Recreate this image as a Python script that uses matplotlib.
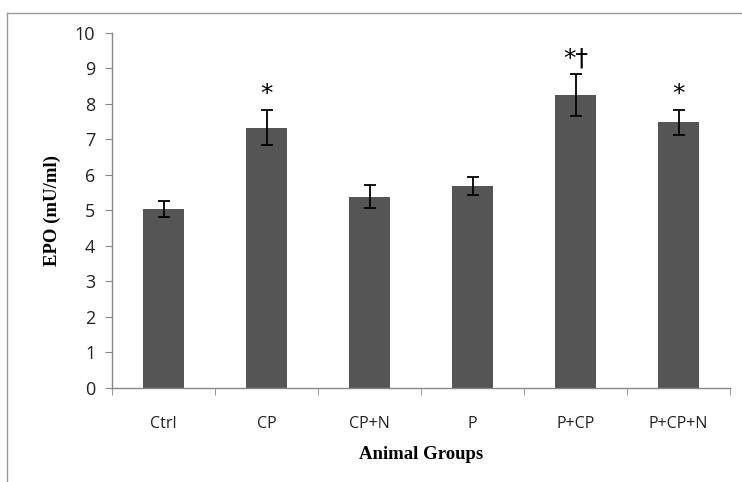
import numpy as np
import matplotlib.pyplot as plt
from matplotlib.lines import Line2D

groups = ['Ctrl', 'CP', 'CP+N', 'P', 'P+CP', 'P+CP+N']
epo_mean = [5.03, 7.33, 5.39, 5.68, 8.24, 7.48]
epo_err = [0.23, 0.50, 0.32, 0.26, 0.59, 0.35]
marks = ['', '*', '', '', '*†', '*']

fig = plt.figure(figsize=(7.42, 4.82), dpi=100)
ax = fig.add_axes([0.151, 0.195, 0.833, 0.737])

x = np.arange(len(groups))
ax.bar(x, epo_mean, width=0.4, color='#555555', zorder=2)
ax.errorbar(x, epo_mean, yerr=epo_err, fmt='none', ecolor='black',
            elinewidth=1.3, capsize=4, capthick=1.3, zorder=3)

# significance marks above error bars
for xi, m, e, lab in zip(x, epo_mean, epo_err, marks):
    if lab:
        ax.text(xi, m + e + 0.12, lab, ha='center', va='bottom',
                fontsize=18, family=['DejaVu Sans'])

ax.set_xlim(-0.5, len(groups) - 0.5)
ax.set_ylim(0, 10)
ax.set_yticks(range(0, 11))
ax.set_xticks(x)
ax.set_xticklabels(groups)
ax.set_xticks(np.arange(-0.5, len(groups)), minor=True)

for s in ['top', 'right']:
    ax.spines[s].set_visible(False)
for s in ['left', 'bottom']:
    ax.spines[s].set_color('#888888')
    ax.spines[s].set_linewidth(1.0)

ax.tick_params(axis='y', direction='out', length=5, color='#888888',
               labelsize=13, pad=7)
ax.tick_params(axis='x', which='major', length=0, labelsize=11.5, pad=20)
ax.tick_params(axis='x', which='minor', direction='out', length=5,
               color='#888888')
for t in ax.get_xticklabels() + ax.get_yticklabels():
    t.set_fontfamily('Open Sans')
    t.set_color('#222222')

ax.set_ylabel('EPO (mU/ml)', family='Liberation Serif', fontweight='bold',
              fontsize=13.5, labelpad=10)
ax.set_xlabel('Animal Groups', family='Liberation Serif', fontweight='bold',
              fontsize=13.5, labelpad=10)

# chart area border (left and top only visible)
fig.add_artist(Line2D([0.0095, 0.0095], [0.0, 0.973], transform=fig.transFigure,
                      color='#999999', lw=1))
fig.add_artist(Line2D([0.0095, 1.0], [0.973, 0.973], transform=fig.transFigure,
                      color='#999999', lw=1))

fig.savefig('out.png', dpi=100)
